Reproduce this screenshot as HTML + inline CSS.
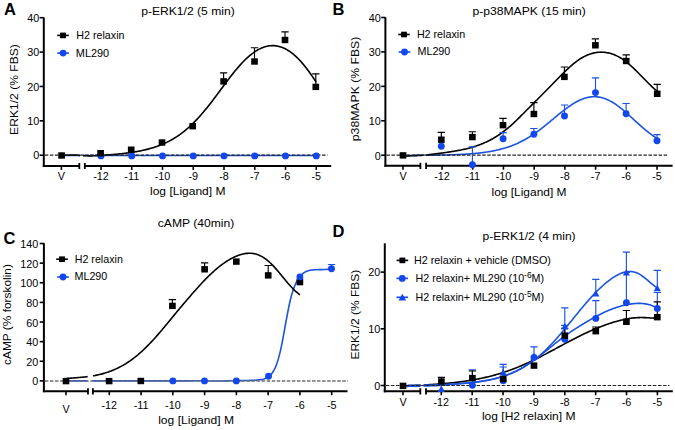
<!DOCTYPE html>
<html><head><meta charset="utf-8"><style>
html,body{margin:0;padding:0;background:#fff;width:675px;height:430px;overflow:hidden}
text{font-family:"Liberation Sans", sans-serif}
</style></head><body>
<svg width="675" height="430" viewBox="0 0 675 430" style="display:block;font-family:'Liberation Sans', sans-serif">
<rect width="675" height="430" fill="#fff"/>
<text x="4.00" y="14.80" font-size="16.5" font-weight="bold" fill="#000">A</text>
<text x="332.60" y="14.70" font-size="16.5" font-weight="bold" fill="#000">B</text>
<text x="3.60" y="243.50" font-size="16.5" font-weight="bold" fill="#000">C</text>
<text x="332.60" y="236.80" font-size="16.5" font-weight="bold" fill="#000">D</text>
<text x="141.20" y="14.60" font-size="10.6" textLength="93.50" lengthAdjust="spacingAndGlyphs">p-ERK1/2 (5 min)</text>
<text x="472.40" y="14.80" font-size="10.6" textLength="113.50" lengthAdjust="spacingAndGlyphs">p-p38MAPK (15 min)</text>
<text x="157.80" y="227.30" font-size="10.6" textLength="76.50" lengthAdjust="spacingAndGlyphs">cAMP (40min)</text>
<text x="482.60" y="240.00" font-size="10.6" textLength="93.00" lengthAdjust="spacingAndGlyphs">p-ERK1/2 (4 min)</text>
<text transform="rotate(-90 18.10 134.90)" x="18.10" y="134.90" font-size="10.6" textLength="90.80" lengthAdjust="spacingAndGlyphs">ERK1/2 (% FBS)</text>
<text transform="rotate(-90 359.00 141.20)" x="359.00" y="141.20" font-size="10.6" textLength="104.50" lengthAdjust="spacingAndGlyphs">p38MAPK (% FBS)</text>
<text transform="rotate(-90 11.20 364.90)" x="11.20" y="364.90" font-size="10.6" textLength="100.80" lengthAdjust="spacingAndGlyphs">cAMP (% forskolin)</text>
<text transform="rotate(-90 358.90 359.50)" x="358.90" y="359.50" font-size="10.6" textLength="89.70" lengthAdjust="spacingAndGlyphs">ERK1/2 (% FBS)</text>
<text x="150.00" y="194.80" font-size="11" textLength="75.50" lengthAdjust="spacingAndGlyphs">log [Ligand] M</text>
<text x="491.50" y="196.10" font-size="11" textLength="75.00" lengthAdjust="spacingAndGlyphs">log [Ligand] M</text>
<text x="158.20" y="423.90" font-size="11" textLength="75.80" lengthAdjust="spacingAndGlyphs">log [Ligand] M</text>
<text x="481.90" y="420.30" font-size="11" textLength="93.60" lengthAdjust="spacingAndGlyphs">log [H2 relaxin] M</text>
<path d="M43.80,17.50 V166.90" stroke="#000" stroke-width="2" fill="none"/>
<path d="M39.60,155.20 H43.80" stroke="#000" stroke-width="1.6"/>
<text x="39.20" y="159.40" font-size="10.8" text-anchor="end">0</text>
<path d="M39.60,120.82 H43.80" stroke="#000" stroke-width="1.6"/>
<text x="39.20" y="125.02" font-size="10.8" text-anchor="end">10</text>
<path d="M39.60,86.45 H43.80" stroke="#000" stroke-width="1.6"/>
<text x="39.20" y="90.65" font-size="10.8" text-anchor="end">20</text>
<path d="M39.60,52.07 H43.80" stroke="#000" stroke-width="1.6"/>
<text x="39.20" y="56.27" font-size="10.8" text-anchor="end">30</text>
<path d="M39.60,17.70 H43.80" stroke="#000" stroke-width="1.6"/>
<text x="39.20" y="21.90" font-size="10.8" text-anchor="end">40</text>
<path d="M42.80,165.90 H79.30 M84.80,165.90 H331.20" stroke="#000" stroke-width="2" fill="none"/>
<path d="M79.30,162.90 V169.10 M84.80,162.90 V169.10" stroke="#000" stroke-width="1.8" fill="none"/>
<path d="M61.40,165.90 V169.90" stroke="#000" stroke-width="1.6"/>
<text x="61.40" y="179.60" font-size="10.8" text-anchor="middle">V</text>
<path d="M101.00,165.90 V169.90" stroke="#000" stroke-width="1.6"/>
<text x="101.00" y="179.60" font-size="10.8" text-anchor="middle">-12</text>
<path d="M131.75,165.90 V169.90" stroke="#000" stroke-width="1.6"/>
<text x="131.75" y="179.60" font-size="10.8" text-anchor="middle">-11</text>
<path d="M162.50,165.90 V169.90" stroke="#000" stroke-width="1.6"/>
<text x="162.50" y="179.60" font-size="10.8" text-anchor="middle">-10</text>
<path d="M193.25,165.90 V169.90" stroke="#000" stroke-width="1.6"/>
<text x="193.25" y="179.60" font-size="10.8" text-anchor="middle">-9</text>
<path d="M224.00,165.90 V169.90" stroke="#000" stroke-width="1.6"/>
<text x="224.00" y="179.60" font-size="10.8" text-anchor="middle">-8</text>
<path d="M254.75,165.90 V169.90" stroke="#000" stroke-width="1.6"/>
<text x="254.75" y="179.60" font-size="10.8" text-anchor="middle">-7</text>
<path d="M285.50,165.90 V169.90" stroke="#000" stroke-width="1.6"/>
<text x="285.50" y="179.60" font-size="10.8" text-anchor="middle">-6</text>
<path d="M316.25,165.90 V169.90" stroke="#000" stroke-width="1.6"/>
<text x="316.25" y="179.60" font-size="10.8" text-anchor="middle">-5</text>
<path d="M385.40,17.30 V166.70" stroke="#000" stroke-width="2" fill="none"/>
<path d="M381.20,155.20 H385.40" stroke="#000" stroke-width="1.6"/>
<text x="380.80" y="159.70" font-size="10.8" text-anchor="end">0</text>
<path d="M381.20,120.77 H385.40" stroke="#000" stroke-width="1.6"/>
<text x="380.80" y="125.27" font-size="10.8" text-anchor="end">10</text>
<path d="M381.20,86.35 H385.40" stroke="#000" stroke-width="1.6"/>
<text x="380.80" y="90.85" font-size="10.8" text-anchor="end">20</text>
<path d="M381.20,51.92 H385.40" stroke="#000" stroke-width="1.6"/>
<text x="380.80" y="56.42" font-size="10.8" text-anchor="end">30</text>
<path d="M381.20,17.50 H385.40" stroke="#000" stroke-width="1.6"/>
<text x="380.80" y="22.00" font-size="10.8" text-anchor="end">40</text>
<path d="M384.40,165.70 H420.40 M426.10,165.70 H672.60" stroke="#000" stroke-width="2" fill="none"/>
<path d="M420.40,162.70 V168.90 M426.10,162.70 V168.90" stroke="#000" stroke-width="1.8" fill="none"/>
<path d="M403.00,165.70 V169.70" stroke="#000" stroke-width="1.6"/>
<text x="403.00" y="179.60" font-size="10.8" text-anchor="middle">V</text>
<path d="M442.00,165.70 V169.70" stroke="#000" stroke-width="1.6"/>
<text x="442.00" y="179.60" font-size="10.8" text-anchor="middle">-12</text>
<path d="M472.72,165.70 V169.70" stroke="#000" stroke-width="1.6"/>
<text x="472.72" y="179.60" font-size="10.8" text-anchor="middle">-11</text>
<path d="M503.44,165.70 V169.70" stroke="#000" stroke-width="1.6"/>
<text x="503.44" y="179.60" font-size="10.8" text-anchor="middle">-10</text>
<path d="M534.16,165.70 V169.70" stroke="#000" stroke-width="1.6"/>
<text x="534.16" y="179.60" font-size="10.8" text-anchor="middle">-9</text>
<path d="M564.88,165.70 V169.70" stroke="#000" stroke-width="1.6"/>
<text x="564.88" y="179.60" font-size="10.8" text-anchor="middle">-8</text>
<path d="M595.60,165.70 V169.70" stroke="#000" stroke-width="1.6"/>
<text x="595.60" y="179.60" font-size="10.8" text-anchor="middle">-7</text>
<path d="M626.32,165.70 V169.70" stroke="#000" stroke-width="1.6"/>
<text x="626.32" y="179.60" font-size="10.8" text-anchor="middle">-6</text>
<path d="M657.04,165.70 V169.70" stroke="#000" stroke-width="1.6"/>
<text x="657.04" y="179.60" font-size="10.8" text-anchor="middle">-5</text>
<path d="M43.90,243.10 V392.20" stroke="#000" stroke-width="2" fill="none"/>
<path d="M39.70,380.90 H43.90" stroke="#000" stroke-width="1.6"/>
<text x="38.30" y="385.40" font-size="10.8" text-anchor="end">0</text>
<path d="M39.70,361.27 H43.90" stroke="#000" stroke-width="1.6"/>
<text x="38.30" y="365.77" font-size="10.8" text-anchor="end">20</text>
<path d="M39.70,341.64 H43.90" stroke="#000" stroke-width="1.6"/>
<text x="38.30" y="346.14" font-size="10.8" text-anchor="end">40</text>
<path d="M39.70,322.02 H43.90" stroke="#000" stroke-width="1.6"/>
<text x="38.30" y="326.52" font-size="10.8" text-anchor="end">60</text>
<path d="M39.70,302.39 H43.90" stroke="#000" stroke-width="1.6"/>
<text x="38.30" y="306.89" font-size="10.8" text-anchor="end">80</text>
<path d="M39.70,282.76 H43.90" stroke="#000" stroke-width="1.6"/>
<text x="38.30" y="287.26" font-size="10.8" text-anchor="end">100</text>
<path d="M39.70,263.13 H43.90" stroke="#000" stroke-width="1.6"/>
<text x="38.30" y="267.63" font-size="10.8" text-anchor="end">120</text>
<path d="M39.70,243.50 H43.90" stroke="#000" stroke-width="1.6"/>
<text x="38.30" y="248.00" font-size="10.8" text-anchor="end">140</text>
<path d="M42.90,391.20 H88.00 M92.90,391.20 H347.50" stroke="#000" stroke-width="2" fill="none"/>
<path d="M88.00,388.20 V394.40 M92.90,388.20 V394.40" stroke="#000" stroke-width="1.8" fill="none"/>
<path d="M66.00,391.20 V395.20" stroke="#000" stroke-width="1.6"/>
<text x="66.00" y="413.00" font-size="10.8" text-anchor="middle">V</text>
<path d="M109.30,391.20 V395.20" stroke="#000" stroke-width="1.6"/>
<text x="109.30" y="408.90" font-size="10.8" text-anchor="middle">-12</text>
<path d="M141.07,391.20 V395.20" stroke="#000" stroke-width="1.6"/>
<text x="141.07" y="408.90" font-size="10.8" text-anchor="middle">-11</text>
<path d="M172.84,391.20 V395.20" stroke="#000" stroke-width="1.6"/>
<text x="172.84" y="408.90" font-size="10.8" text-anchor="middle">-10</text>
<path d="M204.61,391.20 V395.20" stroke="#000" stroke-width="1.6"/>
<text x="204.61" y="408.90" font-size="10.8" text-anchor="middle">-9</text>
<path d="M236.38,391.20 V395.20" stroke="#000" stroke-width="1.6"/>
<text x="236.38" y="408.90" font-size="10.8" text-anchor="middle">-8</text>
<path d="M268.15,391.20 V395.20" stroke="#000" stroke-width="1.6"/>
<text x="268.15" y="408.90" font-size="10.8" text-anchor="middle">-7</text>
<path d="M299.92,391.20 V395.20" stroke="#000" stroke-width="1.6"/>
<text x="299.92" y="408.90" font-size="10.8" text-anchor="middle">-6</text>
<path d="M331.69,391.20 V395.20" stroke="#000" stroke-width="1.6"/>
<text x="331.69" y="408.90" font-size="10.8" text-anchor="middle">-5</text>
<path d="M384.80,243.30 V392.30" stroke="#000" stroke-width="2" fill="none"/>
<path d="M380.60,385.50 H384.80" stroke="#000" stroke-width="1.6"/>
<text x="380.20" y="389.70" font-size="10.8" text-anchor="end">0</text>
<path d="M380.60,328.80 H384.80" stroke="#000" stroke-width="1.6"/>
<text x="380.20" y="333.00" font-size="10.8" text-anchor="end">10</text>
<path d="M380.60,272.10 H384.80" stroke="#000" stroke-width="1.6"/>
<text x="380.20" y="276.30" font-size="10.8" text-anchor="end">20</text>
<path d="M383.80,391.30 H420.30 M426.00,391.30 H672.80" stroke="#000" stroke-width="2" fill="none"/>
<path d="M420.30,388.30 V394.50 M426.00,388.30 V394.50" stroke="#000" stroke-width="1.8" fill="none"/>
<path d="M403.00,391.30 V395.30" stroke="#000" stroke-width="1.6"/>
<text x="403.00" y="405.60" font-size="10.8" text-anchor="middle">V</text>
<path d="M441.30,391.30 V395.30" stroke="#000" stroke-width="1.6"/>
<text x="441.30" y="405.60" font-size="10.8" text-anchor="middle">-12</text>
<path d="M472.17,391.30 V395.30" stroke="#000" stroke-width="1.6"/>
<text x="472.17" y="405.60" font-size="10.8" text-anchor="middle">-11</text>
<path d="M503.04,391.30 V395.30" stroke="#000" stroke-width="1.6"/>
<text x="503.04" y="405.60" font-size="10.8" text-anchor="middle">-10</text>
<path d="M533.91,391.30 V395.30" stroke="#000" stroke-width="1.6"/>
<text x="533.91" y="405.60" font-size="10.8" text-anchor="middle">-9</text>
<path d="M564.78,391.30 V395.30" stroke="#000" stroke-width="1.6"/>
<text x="564.78" y="405.60" font-size="10.8" text-anchor="middle">-8</text>
<path d="M595.65,391.30 V395.30" stroke="#000" stroke-width="1.6"/>
<text x="595.65" y="405.60" font-size="10.8" text-anchor="middle">-7</text>
<path d="M626.52,391.30 V395.30" stroke="#000" stroke-width="1.6"/>
<text x="626.52" y="405.60" font-size="10.8" text-anchor="middle">-6</text>
<path d="M657.39,391.30 V395.30" stroke="#000" stroke-width="1.6"/>
<text x="657.39" y="405.60" font-size="10.8" text-anchor="middle">-5</text>
<path d="M57.20,35.40 H68.80" stroke="#000" stroke-width="1.6"/>
<rect x="60.08" y="32.60" width="5.85" height="5.6" fill="#000"/>
<text x="76.30" y="38.60" font-size="10.6" textLength="48.20" lengthAdjust="spacingAndGlyphs">H2 relaxin</text>
<path d="M57.30,53.10 H68.90" stroke="#1247ec" stroke-width="1.6"/>
<circle cx="63.10" cy="53.10" r="3.4" fill="#1247ec"/>
<text x="75.80" y="56.50" font-size="10.6" textLength="33.40" lengthAdjust="spacingAndGlyphs">ML290</text>
<path d="M398.20,34.50 H409.80" stroke="#000" stroke-width="1.6"/>
<rect x="401.07" y="31.70" width="5.85" height="5.6" fill="#000"/>
<text x="416.90" y="37.80" font-size="10.6" textLength="48.20" lengthAdjust="spacingAndGlyphs">H2 relaxin</text>
<path d="M398.70,52.00 H410.30" stroke="#1247ec" stroke-width="1.6"/>
<circle cx="404.50" cy="52.00" r="3.4" fill="#1247ec"/>
<text x="417.50" y="55.40" font-size="10.6" textLength="32.80" lengthAdjust="spacingAndGlyphs">ML290</text>
<path d="M56.20,259.20 H67.80" stroke="#000" stroke-width="1.6"/>
<rect x="59.08" y="256.40" width="5.85" height="5.6" fill="#000"/>
<text x="74.70" y="262.60" font-size="10.6" textLength="48.20" lengthAdjust="spacingAndGlyphs">H2 relaxin</text>
<path d="M57.20,277.00 H68.80" stroke="#1247ec" stroke-width="1.6"/>
<circle cx="63.00" cy="277.00" r="3.4" fill="#1247ec"/>
<text x="74.50" y="280.20" font-size="10.6" textLength="32.80" lengthAdjust="spacingAndGlyphs">ML290</text>
<path d="M396.60,260.40 H408.20" stroke="#000" stroke-width="1.6"/>
<rect x="399.47" y="257.60" width="5.85" height="5.6" fill="#000"/>
<text x="413.90" y="263.60" font-size="10.6" textLength="137.00" lengthAdjust="spacingAndGlyphs">H2 relaxin + vehicle (DMSO)</text>
<path d="M396.40,278.40 H408.00" stroke="#1247ec" stroke-width="1.6"/>
<circle cx="402.20" cy="278.40" r="3.4" fill="#1247ec"/>
<text x="415.50" y="282.40" font-size="10.6" textLength="128.60" lengthAdjust="spacingAndGlyphs">H2 relaxin+ ML290 (10<tspan dy="-4.2" font-size="8.4">-6</tspan><tspan dy="4.2">M)</tspan></text>
<path d="M396.50,297.30 H408.10" stroke="#1247ec" stroke-width="1.6"/>
<path d="M402.30,293.70 L406.10,300.54 L398.50,300.54Z" fill="#1247ec"/>
<text x="415.60" y="301.30" font-size="10.6" textLength="128.50" lengthAdjust="spacingAndGlyphs">H2 relaxin+ ML290 (10<tspan dy="-4.2" font-size="8.4">-5</tspan><tspan dy="4.2">M)</tspan></text>
<path d="M61.40,155.54 L62.38,155.54 L63.37,155.54 L64.35,155.54 L65.34,155.54 L66.32,155.54 L67.30,155.54 L68.29,155.54 L69.27,155.54 L70.26,155.54 L71.24,155.54 L72.22,155.54 L73.21,155.54 L74.19,155.54 L75.18,155.54 L76.16,155.54 L77.14,155.54 L78.13,155.54 L79.11,155.54 L80.10,155.54M83.05,155.54 L84.03,155.54 L85.02,155.54 L86.00,155.54 L86.98,155.54 L87.97,155.54 L88.95,155.54 L89.94,155.54 L90.92,155.54 L91.90,155.54 L92.89,155.54 L93.87,155.54 L94.86,155.54 L95.84,155.54 L96.82,155.54 L97.81,155.54 L98.79,155.54 L99.78,155.54 L100.76,155.54 L101.74,155.54 L102.73,155.54 L103.71,155.54 L104.69,155.54 L105.68,155.54 L106.66,155.54 L107.65,155.54 L108.63,155.54 L109.61,155.54 L110.60,155.54 L111.58,155.54 L112.57,155.54 L113.55,155.54 L114.53,155.54 L115.52,155.54 L116.50,155.54 L117.49,155.54 L118.47,155.54 L119.45,155.54 L120.44,155.54 L121.42,155.54 L122.41,155.54 L123.39,155.54 L124.37,155.54 L125.36,155.54 L126.34,155.54 L127.33,155.54 L128.31,155.54 L129.29,155.54 L130.28,155.54 L131.26,155.54 L132.25,155.54 L133.23,155.54 L134.21,155.54 L135.20,155.54 L136.18,155.54 L137.17,155.54 L138.15,155.54 L139.13,155.54 L140.12,155.54 L141.10,155.54 L142.09,155.54 L143.07,155.54 L144.05,155.54 L145.04,155.54 L146.02,155.54 L147.01,155.54 L147.99,155.54 L148.97,155.54 L149.96,155.54 L150.94,155.54 L151.93,155.54 L152.91,155.54 L153.89,155.54 L154.88,155.54 L155.86,155.54 L156.85,155.54 L157.83,155.54 L158.81,155.54 L159.80,155.54 L160.78,155.54 L161.77,155.54 L162.75,155.54 L163.73,155.54 L164.72,155.54 L165.70,155.54 L166.69,155.54 L167.67,155.54 L168.65,155.54 L169.64,155.54 L170.62,155.54 L171.61,155.54 L172.59,155.54 L173.57,155.54 L174.56,155.54 L175.54,155.54 L176.53,155.54 L177.51,155.54 L178.49,155.54 L179.48,155.54 L180.46,155.54 L181.45,155.54 L182.43,155.54 L183.41,155.54 L184.40,155.54 L185.38,155.54 L186.37,155.54 L187.35,155.54 L188.33,155.54 L189.32,155.54 L190.30,155.54 L191.28,155.54 L192.27,155.54 L193.25,155.54 L194.24,155.54 L195.22,155.54 L196.20,155.54 L197.19,155.54 L198.17,155.54 L199.16,155.54 L200.14,155.54 L201.12,155.54 L202.11,155.54 L203.09,155.54 L204.08,155.54 L205.06,155.54 L206.04,155.54 L207.03,155.54 L208.01,155.54 L209.00,155.54 L209.98,155.54 L210.96,155.54 L211.95,155.54 L212.93,155.54 L213.92,155.54 L214.90,155.54 L215.88,155.54 L216.87,155.54 L217.85,155.54 L218.84,155.54 L219.82,155.54 L220.80,155.54 L221.79,155.54 L222.77,155.54 L223.76,155.54 L224.74,155.54 L225.72,155.54 L226.71,155.54 L227.69,155.54 L228.68,155.54 L229.66,155.54 L230.64,155.54 L231.63,155.54 L232.61,155.54 L233.60,155.54 L234.58,155.54 L235.56,155.54 L236.55,155.54 L237.53,155.54 L238.52,155.54 L239.50,155.54 L240.48,155.54 L241.47,155.54 L242.45,155.54 L243.44,155.54 L244.42,155.54 L245.40,155.54 L246.39,155.54 L247.37,155.54 L248.36,155.54 L249.34,155.54 L250.32,155.54 L251.31,155.54 L252.29,155.54 L253.28,155.54 L254.26,155.54 L255.24,155.54 L256.23,155.54 L257.21,155.54 L258.20,155.54 L259.18,155.54 L260.16,155.54 L261.15,155.54 L262.13,155.54 L263.12,155.54 L264.10,155.54 L265.08,155.54 L266.07,155.54 L267.05,155.54 L268.04,155.54 L269.02,155.54 L270.00,155.54 L270.99,155.54 L271.97,155.54 L272.96,155.54 L273.94,155.54 L274.92,155.54 L275.91,155.54 L276.89,155.54 L277.87,155.54 L278.86,155.54 L279.84,155.54 L280.83,155.54 L281.81,155.54 L282.79,155.54 L283.78,155.54 L284.76,155.54 L285.75,155.54 L286.73,155.54 L287.71,155.54 L288.70,155.54 L289.68,155.54 L290.67,155.54 L291.65,155.54 L292.63,155.54 L293.62,155.54 L294.60,155.54 L295.59,155.54 L296.57,155.54 L297.55,155.54 L298.54,155.54 L299.52,155.54 L300.51,155.54 L301.49,155.54 L302.47,155.54 L303.46,155.54 L304.44,155.54 L305.43,155.54 L306.41,155.54 L307.39,155.54 L308.38,155.54 L309.36,155.54 L310.35,155.54 L311.33,155.54 L312.31,155.54 L313.30,155.54 L314.28,155.54 L315.27,155.54 L316.25,155.54" stroke="#1b52e0" stroke-width="1.6" fill="none" stroke-linejoin="round"/>
<path d="M61.40,155.25 L62.38,155.24 L63.37,155.24 L64.35,155.23 L65.34,155.22 L66.32,155.21 L67.30,155.19 L68.29,155.18 L69.27,155.17 L70.26,155.16 L71.24,155.15 L72.22,155.13 L73.21,155.12 L74.19,155.11 L75.18,155.11 L76.16,155.17 L77.14,155.23 L78.13,155.29 L79.11,155.35 L80.10,155.41M83.05,155.58 L84.03,155.63 L85.02,155.69 L86.00,155.74 L86.98,155.80 L87.97,155.85 L88.95,155.90 L89.94,155.95 L90.92,155.91 L91.90,155.86 L92.89,155.81 L93.87,155.75 L94.86,155.70 L95.84,155.65 L96.82,155.59 L97.81,155.54 L98.79,155.48 L99.78,155.42 L100.76,155.36 L101.74,155.30 L102.73,155.24 L103.71,155.18 L104.69,155.11 L105.68,155.04 L106.66,154.98 L107.65,154.90 L108.63,154.83 L109.61,154.76 L110.60,154.68 L111.58,154.60 L112.57,154.52 L113.55,154.44 L114.53,154.36 L115.52,154.27 L116.50,154.18 L117.49,154.09 L118.47,153.99 L119.45,153.89 L120.44,153.79 L121.42,153.69 L122.41,153.58 L123.39,153.47 L124.37,153.35 L125.36,153.24 L126.34,153.11 L127.33,152.99 L128.31,152.86 L129.29,152.72 L130.28,152.58 L131.26,152.44 L132.25,152.29 L133.23,152.14 L134.21,151.98 L135.20,151.82 L136.18,151.65 L137.17,151.47 L138.15,151.29 L139.13,151.11 L140.12,150.91 L141.10,150.72 L142.09,150.51 L143.07,150.30 L144.05,150.08 L145.04,149.85 L146.02,149.61 L147.01,149.37 L147.99,149.12 L148.97,148.86 L149.96,148.59 L150.94,148.31 L151.93,148.02 L152.91,147.72 L153.89,147.41 L154.88,147.09 L155.86,146.77 L156.85,146.43 L157.83,146.08 L158.81,145.71 L159.80,145.34 L160.78,144.95 L161.77,144.55 L162.75,144.14 L163.73,143.71 L164.72,143.27 L165.70,142.82 L166.69,142.35 L167.67,141.87 L168.65,141.37 L169.64,140.86 L170.62,140.33 L171.61,139.78 L172.59,139.22 L173.57,138.64 L174.56,138.05 L175.54,137.44 L176.53,136.81 L177.51,136.16 L178.49,135.49 L179.48,134.81 L180.46,134.10 L181.45,133.38 L182.43,132.64 L183.41,131.87 L184.40,131.09 L185.38,130.29 L186.37,129.47 L187.35,128.63 L188.33,127.76 L189.32,126.88 L190.30,125.98 L191.28,125.06 L192.27,124.11 L193.25,123.15 L194.24,122.17 L195.22,121.16 L196.20,120.14 L197.19,119.10 L198.17,118.04 L199.16,116.96 L200.14,115.86 L201.12,114.74 L202.11,113.60 L203.09,112.45 L204.08,111.28 L205.06,110.10 L206.04,108.90 L207.03,107.68 L208.01,106.45 L209.00,105.21 L209.98,103.95 L210.96,102.68 L211.95,101.41 L212.93,100.12 L213.92,98.82 L214.90,97.52 L215.88,96.20 L216.87,94.89 L217.85,93.56 L218.84,92.24 L219.82,90.91 L220.80,89.58 L221.79,88.25 L222.77,86.92 L223.76,85.60 L224.74,84.28 L225.72,82.96 L226.71,81.65 L227.69,80.35 L228.68,79.05 L229.66,77.77 L230.64,76.50 L231.63,75.23 L232.61,73.99 L233.60,72.76 L234.58,71.54 L235.56,70.34 L236.55,69.16 L237.53,68.00 L238.52,66.86 L239.50,65.74 L240.48,64.64 L241.47,63.57 L242.45,62.52 L243.44,61.49 L244.42,60.49 L245.40,59.52 L246.39,58.58 L247.37,57.66 L248.36,56.78 L249.34,55.92 L250.32,55.10 L251.31,54.30 L252.29,53.54 L253.28,52.81 L254.26,52.12 L255.24,51.45 L256.23,50.82 L257.21,50.23 L258.20,49.67 L259.18,49.14 L260.16,48.65 L261.15,48.20 L262.13,47.78 L263.12,47.39 L264.10,47.05 L265.08,46.74 L266.07,46.47 L267.05,46.23 L268.04,46.04 L269.02,45.88 L270.00,45.76 L270.99,45.68 L271.97,45.63 L272.96,45.62 L273.94,45.66 L274.92,45.73 L275.91,45.84 L276.89,45.98 L277.87,46.17 L278.86,46.40 L279.84,46.66 L280.83,46.97 L281.81,47.31 L282.79,47.69 L283.78,48.11 L284.76,48.57 L285.75,49.07 L286.73,49.61 L287.71,50.19 L288.70,50.80 L289.68,51.45 L290.67,52.15 L291.65,52.88 L292.63,53.65 L293.62,54.45 L294.60,55.30 L295.59,56.18 L296.57,57.10 L297.55,58.05 L298.54,59.04 L299.52,60.07 L300.51,61.13 L301.49,62.23 L302.47,63.36 L303.46,64.52 L304.44,65.72 L305.43,66.95 L306.41,68.21 L307.39,69.50 L308.38,70.82 L309.36,72.16 L310.35,73.54 L311.33,74.94 L312.31,76.37 L313.30,77.82 L314.28,79.30 L315.27,80.80 L316.25,82.31" stroke="#000" stroke-width="1.6" fill="none" stroke-linejoin="round"/>
<path d="M403.00,155.56 L403.98,155.55 L404.96,155.55 L405.94,155.53 L406.92,155.51 L407.90,155.50 L408.89,155.48 L409.87,155.46 L410.85,155.44 L411.83,155.43 L412.81,155.41 L413.79,155.39 L414.77,155.37 L415.75,155.35 L416.73,155.33 L417.71,155.31 L418.69,155.29 L419.67,155.27 L420.66,155.26 L421.64,155.26 L422.62,155.25 L423.60,155.25M425.56,155.24 L426.54,155.24 L427.52,155.23 L428.50,155.22 L429.48,155.21 L430.46,155.21 L431.44,155.20 L432.43,155.19 L433.41,155.18 L434.39,155.17 L435.37,155.15 L436.35,155.14 L437.33,155.13 L438.31,155.11 L439.29,155.10 L440.27,155.08 L441.25,155.06 L442.23,155.04 L443.21,155.02 L444.20,155.00 L445.18,154.98 L446.16,154.96 L447.14,154.93 L448.12,154.91 L449.10,154.88 L450.08,154.85 L451.06,154.82 L452.04,154.79 L453.02,154.76 L454.00,154.72 L454.99,154.68 L455.97,154.65 L456.95,154.61 L457.93,154.56 L458.91,154.52 L459.89,154.47 L460.87,154.42 L461.85,154.37 L462.83,154.32 L463.81,154.27 L464.79,154.21 L465.77,154.15 L466.76,154.08 L467.74,154.02 L468.72,153.95 L469.70,153.88 L470.68,153.80 L471.66,153.72 L472.64,153.64 L473.62,153.56 L474.60,153.47 L475.58,153.38 L476.56,153.28 L477.54,153.18 L478.53,153.08 L479.51,152.97 L480.49,152.85 L481.47,152.74 L482.45,152.61 L483.43,152.48 L484.41,152.35 L485.39,152.21 L486.37,152.07 L487.35,151.92 L488.33,151.76 L489.31,151.60 L490.30,151.43 L491.28,151.26 L492.26,151.08 L493.24,150.89 L494.22,150.69 L495.20,150.49 L496.18,150.28 L497.16,150.06 L498.14,149.84 L499.12,149.60 L500.10,149.36 L501.08,149.10 L502.07,148.84 L503.05,148.57 L504.03,148.29 L505.01,148.00 L505.99,147.70 L506.97,147.39 L507.95,147.06 L508.93,146.73 L509.91,146.39 L510.89,146.03 L511.87,145.66 L512.86,145.28 L513.84,144.89 L514.82,144.49 L515.80,144.07 L516.78,143.65 L517.76,143.20 L518.74,142.75 L519.72,142.28 L520.70,141.80 L521.68,141.31 L522.66,140.80 L523.64,140.28 L524.63,139.74 L525.61,139.19 L526.59,138.63 L527.57,138.05 L528.55,137.46 L529.53,136.86 L530.51,136.24 L531.49,135.61 L532.47,134.96 L533.45,134.30 L534.43,133.63 L535.41,132.95 L536.40,132.26 L537.38,131.55 L538.36,130.83 L539.34,130.10 L540.32,129.36 L541.30,128.61 L542.28,127.85 L543.26,127.08 L544.24,126.30 L545.22,125.52 L546.20,124.73 L547.18,123.93 L548.17,123.13 L549.15,122.32 L550.13,121.51 L551.11,120.69 L552.09,119.87 L553.07,119.06 L554.05,118.24 L555.03,117.42 L556.01,116.61 L556.99,115.79 L557.97,114.99 L558.96,114.18 L559.94,113.38 L560.92,112.59 L561.90,111.81 L562.88,111.04 L563.86,110.28 L564.84,109.52 L565.82,108.78 L566.80,108.06 L567.78,107.35 L568.76,106.65 L569.74,105.97 L570.73,105.31 L571.71,104.66 L572.69,104.04 L573.67,103.43 L574.65,102.85 L575.63,102.29 L576.61,101.75 L577.59,101.23 L578.57,100.74 L579.55,100.28 L580.53,99.84 L581.51,99.42 L582.50,99.04 L583.48,98.68 L584.46,98.35 L585.44,98.05 L586.42,97.78 L587.40,97.54 L588.38,97.33 L589.36,97.15 L590.34,97.00 L591.32,96.88 L592.30,96.80 L593.28,96.75 L594.27,96.73 L595.25,96.74 L596.23,96.78 L597.21,96.86 L598.19,96.98 L599.17,97.12 L600.15,97.30 L601.13,97.51 L602.11,97.76 L603.09,98.03 L604.07,98.35 L605.05,98.69 L606.04,99.06 L607.02,99.47 L608.00,99.91 L608.98,100.37 L609.96,100.87 L610.94,101.40 L611.92,101.96 L612.90,102.54 L613.88,103.15 L614.86,103.79 L615.84,104.45 L616.83,105.14 L617.81,105.85 L618.79,106.58 L619.77,107.34 L620.75,108.11 L621.73,108.90 L622.71,109.71 L623.69,110.54 L624.67,111.38 L625.65,112.23 L626.63,113.09 L627.61,113.97 L628.60,114.85 L629.58,115.74 L630.56,116.63 L631.54,117.53 L632.52,118.44 L633.50,119.34 L634.48,120.24 L635.46,121.14 L636.44,122.04 L637.42,122.94 L638.40,123.83 L639.38,124.71 L640.37,125.58 L641.35,126.45 L642.33,127.30 L643.31,128.15 L644.29,128.98 L645.27,129.80 L646.25,130.61 L647.23,131.40 L648.21,132.18 L649.19,132.94 L650.17,133.69 L651.15,134.42 L652.14,135.14 L653.12,135.83 L654.10,136.51 L655.08,137.17 L656.06,137.81 L657.04,138.43" stroke="#1b52e0" stroke-width="1.6" fill="none" stroke-linejoin="round"/>
<path d="M403.00,156.13 L403.98,156.09 L404.96,156.06 L405.94,156.02 L406.92,155.98 L407.90,155.95 L408.89,155.91 L409.87,155.86 L410.85,155.82 L411.83,155.79 L412.81,155.75 L413.79,155.72 L414.77,155.68 L415.75,155.64 L416.73,155.60 L417.71,155.56 L418.69,155.51 L419.67,155.47 L420.66,155.42 L421.64,155.37 L422.62,155.32 L423.60,155.27M425.56,155.15 L426.54,155.06 L427.52,154.92 L428.50,154.79 L429.48,154.65 L430.46,154.52 L431.44,154.39 L432.43,154.26 L433.41,154.13 L434.39,154.00 L435.37,153.87 L436.35,153.74 L437.33,153.61 L438.31,153.49 L439.29,153.36 L440.27,153.23 L441.25,153.10 L442.23,152.97 L443.21,152.84 L444.20,152.70 L445.18,152.57 L446.16,152.43 L447.14,152.29 L448.12,152.15 L449.10,152.01 L450.08,151.86 L451.06,151.71 L452.04,151.56 L453.02,151.40 L454.00,151.24 L454.99,151.08 L455.97,150.91 L456.95,150.74 L457.93,150.56 L458.91,150.38 L459.89,150.19 L460.87,149.99 L461.85,149.79 L462.83,149.58 L463.81,149.37 L464.79,149.15 L465.77,148.92 L466.76,148.69 L467.74,148.44 L468.72,148.19 L469.70,147.93 L470.68,147.67 L471.66,147.39 L472.64,147.10 L473.62,146.81 L474.60,146.50 L475.58,146.18 L476.56,145.86 L477.54,145.52 L478.53,145.17 L479.51,144.81 L480.49,144.44 L481.47,144.05 L482.45,143.65 L483.43,143.24 L484.41,142.82 L485.39,142.38 L486.37,141.93 L487.35,141.47 L488.33,140.99 L489.31,140.50 L490.30,139.99 L491.28,139.47 L492.26,138.93 L493.24,138.37 L494.22,137.80 L495.20,137.22 L496.18,136.62 L497.16,136.00 L498.14,135.36 L499.12,134.71 L500.10,134.04 L501.08,133.35 L502.07,132.65 L503.05,131.92 L504.03,131.19 L505.01,130.43 L505.99,129.66 L506.97,128.87 L507.95,128.06 L508.93,127.23 L509.91,126.39 L510.89,125.53 L511.87,124.65 L512.86,123.76 L513.84,122.85 L514.82,121.92 L515.80,120.99 L516.78,120.04 L517.76,119.08 L518.74,118.11 L519.72,117.14 L520.70,116.16 L521.68,115.18 L522.66,114.19 L523.64,113.21 L524.63,112.22 L525.61,111.23 L526.59,110.25 L527.57,109.27 L528.55,108.29 L529.53,107.31 L530.51,106.32 L531.49,105.34 L532.47,104.36 L533.45,103.38 L534.43,102.40 L535.41,101.41 L536.40,100.43 L537.38,99.44 L538.36,98.46 L539.34,97.47 L540.32,96.48 L541.30,95.49 L542.28,94.50 L543.26,93.50 L544.24,92.51 L545.22,91.51 L546.20,90.51 L547.18,89.51 L548.17,88.50 L549.15,87.50 L550.13,86.49 L551.11,85.48 L552.09,84.47 L553.07,83.46 L554.05,82.45 L555.03,81.45 L556.01,80.44 L556.99,79.44 L557.97,78.44 L558.96,77.45 L559.94,76.46 L560.92,75.47 L561.90,74.50 L562.88,73.53 L563.86,72.56 L564.84,71.61 L565.82,70.66 L566.80,69.73 L567.78,68.81 L568.76,67.90 L569.74,67.01 L570.73,66.13 L571.71,65.28 L572.69,64.44 L573.67,63.62 L574.65,62.83 L575.63,62.06 L576.61,61.32 L577.59,60.60 L578.57,59.92 L579.55,59.26 L580.53,58.63 L581.51,58.03 L582.50,57.46 L583.48,56.92 L584.46,56.41 L585.44,55.92 L586.42,55.47 L587.40,55.05 L588.38,54.65 L589.36,54.29 L590.34,53.95 L591.32,53.65 L592.30,53.37 L593.28,53.12 L594.27,52.90 L595.25,52.71 L596.23,52.55 L597.21,52.41 L598.19,52.31 L599.17,52.23 L600.15,52.19 L601.13,52.17 L602.11,52.18 L603.09,52.22 L604.07,52.29 L605.05,52.39 L606.04,52.52 L607.02,52.68 L608.00,52.86 L608.98,53.07 L609.96,53.32 L610.94,53.59 L611.92,53.90 L612.90,54.23 L613.88,54.60 L614.86,55.00 L615.84,55.43 L616.83,55.89 L617.81,56.39 L618.79,56.91 L619.77,57.47 L620.75,58.05 L621.73,58.67 L622.71,59.32 L623.69,60.00 L624.67,60.70 L625.65,61.44 L626.63,62.20 L627.61,62.99 L628.60,63.80 L629.58,64.64 L630.56,65.50 L631.54,66.38 L632.52,67.28 L633.50,68.20 L634.48,69.14 L635.46,70.09 L636.44,71.05 L637.42,72.03 L638.40,73.01 L639.38,74.01 L640.37,75.01 L641.35,76.01 L642.33,77.01 L643.31,78.02 L644.29,79.02 L645.27,80.02 L646.25,81.02 L647.23,82.01 L648.21,82.99 L649.19,83.96 L650.17,84.93 L651.15,85.88 L652.14,86.82 L653.12,87.75 L654.10,88.66 L655.08,89.55 L656.06,90.43 L657.04,91.29" stroke="#000" stroke-width="1.6" fill="none" stroke-linejoin="round"/>
<path d="M66.00,380.90 L67.03,380.90 L68.05,380.90 L69.08,380.90 L70.10,380.90 L71.13,380.90 L72.15,380.90 L73.18,380.90 L74.21,380.90 L75.23,380.90 L76.26,380.90 L77.28,380.90 L78.31,380.90 L79.34,380.90 L80.36,380.90 L81.39,380.90 L82.41,380.90 L83.44,380.90 L84.46,380.90 L85.49,380.90 L86.52,380.90 L87.54,380.90M92.67,380.90 L93.70,380.90 L94.72,380.90 L95.75,380.90 L96.77,380.90 L97.80,380.90 L98.83,380.90 L99.85,380.90 L100.88,380.90 L101.90,380.90 L102.93,380.90 L103.96,380.90 L104.98,380.90 L106.01,380.90 L107.03,380.90 L108.06,380.90 L109.08,380.90 L110.11,380.90 L111.14,380.90 L112.16,380.90 L113.19,380.90 L114.21,380.90 L115.24,380.90 L116.27,380.90 L117.29,380.90 L118.32,380.90 L119.34,380.90 L120.37,380.90 L121.39,380.90 L122.42,380.90 L123.45,380.90 L124.47,380.90 L125.50,380.90 L126.52,380.90 L127.55,380.90 L128.58,380.90 L129.60,380.90 L130.63,380.90 L131.65,380.90 L132.68,380.90 L133.70,380.90 L134.73,380.90 L135.76,380.90 L136.78,380.90 L137.81,380.90 L138.83,380.90 L139.86,380.90 L140.89,380.90 L141.91,380.90 L142.94,380.90 L143.96,380.90 L144.99,380.90 L146.01,380.90 L147.04,380.90 L148.07,380.90 L149.09,380.90 L150.12,380.90 L151.14,380.90 L152.17,380.90 L153.20,380.90 L154.22,380.90 L155.25,380.90 L156.27,380.90 L157.30,380.90 L158.32,380.90 L159.35,380.90 L160.38,380.90 L161.40,380.90 L162.43,380.90 L163.45,380.90 L164.48,380.90 L165.51,380.90 L166.53,380.90 L167.56,380.90 L168.58,380.90 L169.61,380.90 L170.63,380.90 L171.66,380.90 L172.69,380.90 L173.71,380.90 L174.74,380.90 L175.76,380.90 L176.79,380.90 L177.82,380.90 L178.84,380.90 L179.87,380.90 L180.89,380.90 L181.92,380.90 L182.94,380.90 L183.97,380.90 L185.00,380.90 L186.02,380.89 L187.05,380.87 L188.07,380.86 L189.10,380.85 L190.13,380.83 L191.15,380.82 L192.18,380.80 L193.20,380.79 L194.23,380.78 L195.25,380.76 L196.28,380.75 L197.31,380.74 L198.33,380.72 L199.36,380.71 L200.38,380.71 L201.41,380.75 L202.44,380.79 L203.46,380.82 L204.49,380.85 L205.51,380.88 L206.54,380.90 L207.56,380.92 L208.59,380.94 L209.62,380.95 L210.64,380.96 L211.67,380.97 L212.69,380.98 L213.72,380.98 L214.75,380.98 L215.77,380.98 L216.80,380.98 L217.82,380.98 L218.85,380.97 L219.87,380.96 L220.90,380.96 L221.93,380.94 L222.95,380.93 L223.98,380.92 L225.00,380.90 L226.03,380.89 L227.06,380.87 L228.08,380.86 L229.11,380.84 L230.13,380.82 L231.16,380.80 L232.18,380.78 L233.21,380.76 L234.24,380.74 L235.26,380.72 L236.29,380.70 L237.31,380.68 L238.34,380.66 L239.37,380.64 L240.39,380.62 L241.42,380.60 L242.44,380.58 L243.47,380.56 L244.49,380.54 L245.52,380.52 L246.55,380.50 L247.57,380.47 L248.60,380.45 L249.62,380.42 L250.65,380.39 L251.68,380.36 L252.70,380.33 L253.73,380.28 L254.75,380.23 L255.78,380.18 L256.80,380.11 L257.83,380.02 L258.86,379.92 L259.88,379.80 L260.91,379.64 L261.93,379.46 L262.96,379.23 L263.99,378.95 L265.01,378.61 L266.04,378.20 L267.06,377.70 L268.09,377.08 L269.11,376.34 L270.14,375.44 L271.17,374.37 L272.19,373.07 L273.22,371.54 L274.24,369.72 L275.27,367.58 L276.30,365.09 L277.32,362.20 L278.35,358.88 L279.37,355.10 L280.40,350.85 L281.42,346.15 L282.45,341.02 L283.48,335.58 L284.50,329.93 L285.53,324.20 L286.55,318.53 L287.58,313.04 L288.61,307.84 L289.63,303.03 L290.66,298.68 L291.68,294.80 L292.71,291.38 L293.73,288.37 L294.76,285.74 L295.79,283.43 L296.81,281.40 L297.84,279.63 L298.86,278.06 L299.89,276.67 L300.92,275.46 L301.94,274.40 L302.97,273.49 L303.99,272.72 L305.02,272.09 L306.04,271.56 L307.07,271.14 L308.10,270.79 L309.12,270.51 L310.15,270.29 L311.17,270.12 L312.20,269.99 L313.23,269.89 L314.25,269.81 L315.28,269.76 L316.30,269.72 L317.33,269.69 L318.35,269.67 L319.38,269.66 L320.41,269.64 L321.43,269.62 L322.46,269.59 L323.48,269.55 L324.51,269.50 L325.54,269.44 L326.56,269.36 L327.59,269.26 L328.61,269.14 L329.64,269.00 L330.66,268.83 L331.69,268.73" stroke="#1b52e0" stroke-width="1.6" fill="none" stroke-linejoin="round"/>
<path d="M66.00,378.52 L66.90,378.44 L67.81,378.37 L68.71,378.30 L69.61,378.24 L70.52,378.17 L71.42,378.10 L72.32,378.04 L73.23,377.97 L74.13,377.90 L75.03,377.84 L75.93,377.77 L76.84,377.70 L77.74,377.63 L78.64,377.56 L79.55,377.48 L80.45,377.40 L81.35,377.32 L82.26,377.24 L83.16,377.15 L84.06,377.06 L84.97,376.96 L85.87,376.86 L86.77,376.76 L87.68,376.64M93.09,375.84 L94.00,375.68 L94.90,375.51 L95.80,375.34 L96.71,375.15 L97.61,374.96 L98.51,374.76 L99.42,374.55 L100.32,374.33 L101.22,374.10 L102.13,373.87 L103.03,373.62 L103.93,373.36 L104.84,373.10 L105.74,372.82 L106.64,372.53 L107.55,372.24 L108.45,371.93 L109.35,371.61 L110.26,371.28 L111.16,370.94 L112.06,370.58 L112.96,370.22 L113.87,369.84 L114.77,369.45 L115.67,369.05 L116.58,368.64 L117.48,368.21 L118.38,367.78 L119.29,367.32 L120.19,366.86 L121.09,366.38 L122.00,365.89 L122.90,365.38 L123.80,364.86 L124.71,364.32 L125.61,363.78 L126.51,363.21 L127.42,362.63 L128.32,362.04 L129.22,361.43 L130.12,360.81 L131.03,360.17 L131.93,359.51 L132.83,358.84 L133.74,358.16 L134.64,357.46 L135.54,356.74 L136.45,356.01 L137.35,355.26 L138.25,354.50 L139.16,353.72 L140.06,352.93 L140.96,352.13 L141.87,351.31 L142.77,350.47 L143.67,349.63 L144.58,348.77 L145.48,347.89 L146.38,347.00 L147.28,346.10 L148.19,345.18 L149.09,344.26 L149.99,343.32 L150.90,342.37 L151.80,341.40 L152.70,340.43 L153.61,339.44 L154.51,338.45 L155.41,337.44 L156.32,336.43 L157.22,335.40 L158.12,334.37 L159.03,333.33 L159.93,332.28 L160.83,331.22 L161.74,330.16 L162.64,329.09 L163.54,328.01 L164.45,326.93 L165.35,325.85 L166.25,324.76 L167.15,323.66 L168.06,322.57 L168.96,321.47 L169.86,320.37 L170.77,319.27 L171.67,318.17 L172.57,317.08 L173.48,315.98 L174.38,314.88 L175.28,313.79 L176.19,312.70 L177.09,311.61 L177.99,310.52 L178.90,309.44 L179.80,308.36 L180.70,307.28 L181.61,306.20 L182.51,305.12 L183.41,304.05 L184.31,302.99 L185.22,301.92 L186.12,300.86 L187.02,299.80 L187.93,298.75 L188.83,297.70 L189.73,296.65 L190.64,295.61 L191.54,294.57 L192.44,293.53 L193.35,292.50 L194.25,291.48 L195.15,290.46 L196.06,289.44 L196.96,288.43 L197.86,287.42 L198.77,286.43 L199.67,285.43 L200.57,284.45 L201.47,283.48 L202.38,282.51 L203.28,281.56 L204.18,280.61 L205.09,279.68 L205.99,278.75 L206.89,277.84 L207.80,276.94 L208.70,276.05 L209.60,275.17 L210.51,274.31 L211.41,273.46 L212.31,272.62 L213.22,271.80 L214.12,270.98 L215.02,270.19 L215.93,269.41 L216.83,268.64 L217.73,267.89 L218.64,267.15 L219.54,266.43 L220.44,265.73 L221.34,265.04 L222.25,264.36 L223.15,263.70 L224.05,263.06 L224.96,262.44 L225.86,261.83 L226.76,261.24 L227.67,260.67 L228.57,260.12 L229.47,259.58 L230.38,259.07 L231.28,258.57 L232.18,258.09 L233.09,257.63 L233.99,257.19 L234.89,256.77 L235.80,256.38 L236.70,256.00 L237.60,255.64 L238.50,255.31 L239.41,255.00 L240.31,254.71 L241.21,254.45 L242.12,254.21 L243.02,254.00 L243.92,253.81 L244.83,253.65 L245.73,253.51 L246.63,253.41 L247.54,253.33 L248.44,253.28 L249.34,253.26 L250.25,253.27 L251.15,253.32 L252.05,253.39 L252.96,253.50 L253.86,253.65 L254.76,253.83 L255.66,254.05 L256.57,254.30 L257.47,254.59 L258.37,254.92 L259.28,255.28 L260.18,255.69 L261.08,256.14 L261.99,256.62 L262.89,257.15 L263.79,257.71 L264.70,258.31 L265.60,258.96 L266.50,259.64 L267.41,260.36 L268.31,261.11 L269.21,261.91 L270.12,262.74 L271.02,263.60 L271.92,264.50 L272.83,265.43 L273.73,266.38 L274.63,267.36 L275.53,268.37 L276.44,269.40 L277.34,270.45 L278.24,271.52 L279.15,272.60 L280.05,273.69 L280.95,274.79 L281.86,275.89 L282.76,277.00 L283.66,278.10 L284.57,279.21 L285.47,280.30 L286.37,281.38 L287.28,282.45 L288.18,283.50 L289.08,284.54 L289.99,285.55 L290.89,286.54 L291.79,287.51 L292.69,288.45 L293.60,289.36 L294.50,290.24 L295.40,291.09 L296.31,291.91 L297.21,292.69 L298.11,293.44 L299.02,294.16 L299.92,294.84" stroke="#000" stroke-width="1.6" fill="none" stroke-linejoin="round"/>
<path d="M403.00,385.86 L403.98,385.83 L404.96,385.79 L405.95,385.76 L406.93,385.73 L407.91,385.70 L408.89,385.66 L409.88,385.63 L410.86,385.59 L411.84,385.55 L412.82,385.51 L413.80,385.47 L414.79,385.43 L415.77,385.39 L416.75,385.34 L417.73,385.29 L418.72,385.24 L419.70,385.19 L420.68,385.14M423.63,384.98 L424.61,384.93 L425.59,384.87 L426.57,384.81 L427.56,384.75 L428.54,384.69 L429.52,384.62 L430.50,384.56 L431.48,384.50 L432.47,384.44 L433.45,384.38 L434.43,384.31 L435.41,384.24 L436.39,384.18 L437.38,384.11 L438.36,384.03 L439.34,383.96 L440.32,383.88 L441.31,383.80 L442.29,383.72 L443.27,383.64 L444.25,383.56 L445.23,383.47 L446.22,383.38 L447.20,383.29 L448.18,383.20 L449.16,383.10 L450.15,383.00 L451.13,382.90 L452.11,382.80 L453.09,382.69 L454.07,382.58 L455.06,382.47 L456.04,382.36 L457.02,382.24 L458.00,382.12 L458.99,382.00 L459.97,381.87 L460.95,381.75 L461.93,381.61 L462.91,381.48 L463.90,381.34 L464.88,381.20 L465.86,381.06 L466.84,380.91 L467.83,380.76 L468.81,380.60 L469.79,380.44 L470.77,380.28 L471.75,380.12 L472.74,379.95 L473.72,379.77 L474.70,379.60 L475.68,379.41 L476.67,379.23 L477.65,379.04 L478.63,378.85 L479.61,378.65 L480.59,378.45 L481.58,378.24 L482.56,378.03 L483.54,377.82 L484.52,377.60 L485.50,377.37 L486.49,377.14 L487.47,376.91 L488.45,376.67 L489.43,376.43 L490.42,376.18 L491.40,375.93 L492.38,375.67 L493.36,375.41 L494.34,375.14 L495.33,374.87 L496.31,374.59 L497.29,374.31 L498.27,374.02 L499.26,373.73 L500.24,373.43 L501.22,373.12 L502.20,372.82 L503.18,372.50 L504.17,372.18 L505.15,371.86 L506.13,371.52 L507.11,371.19 L508.10,370.85 L509.08,370.50 L510.06,370.15 L511.04,369.79 L512.02,369.42 L513.01,369.05 L513.99,368.68 L514.97,368.30 L515.95,367.91 L516.94,367.52 L517.92,367.13 L518.90,366.72 L519.88,366.32 L520.86,365.90 L521.85,365.49 L522.83,365.06 L523.81,364.64 L524.79,364.20 L525.78,363.77 L526.76,363.32 L527.74,362.88 L528.72,362.43 L529.70,361.97 L530.69,361.51 L531.67,361.04 L532.65,360.57 L533.63,360.10 L534.61,359.62 L535.60,359.14 L536.58,358.65 L537.56,358.16 L538.54,357.67 L539.53,357.17 L540.51,356.67 L541.49,356.17 L542.47,355.66 L543.45,355.15 L544.44,354.64 L545.42,354.13 L546.40,353.61 L547.38,353.09 L548.37,352.57 L549.35,352.05 L550.33,351.53 L551.31,351.00 L552.29,350.47 L553.28,349.94 L554.26,349.42 L555.24,348.89 L556.22,348.36 L557.21,347.83 L558.19,347.30 L559.17,346.76 L560.15,346.23 L561.13,345.70 L562.12,345.18 L563.10,344.65 L564.08,344.12 L565.06,343.59 L566.05,343.07 L567.03,342.54 L568.01,342.02 L568.99,341.50 L569.97,340.99 L570.96,340.47 L571.94,339.96 L572.92,339.45 L573.90,338.94 L574.89,338.43 L575.87,337.93 L576.85,337.43 L577.83,336.94 L578.81,336.45 L579.80,335.96 L580.78,335.48 L581.76,335.00 L582.74,334.52 L583.72,334.05 L584.71,333.58 L585.69,333.12 L586.67,332.66 L587.65,332.20 L588.64,331.76 L589.62,331.31 L590.60,330.87 L591.58,330.44 L592.56,330.01 L593.55,329.58 L594.53,329.17 L595.51,328.75 L596.49,328.34 L597.48,327.94 L598.46,327.55 L599.44,327.15 L600.42,326.77 L601.40,326.39 L602.39,326.02 L603.37,325.65 L604.35,325.29 L605.33,324.93 L606.32,324.58 L607.30,324.24 L608.28,323.90 L609.26,323.57 L610.24,323.25 L611.23,322.93 L612.21,322.62 L613.19,322.32 L614.17,322.02 L615.16,321.73 L616.14,321.45 L617.12,321.18 L618.10,320.91 L619.08,320.65 L620.07,320.40 L621.05,320.16 L622.03,319.93 L623.01,319.70 L624.00,319.49 L624.98,319.28 L625.96,319.09 L626.94,318.90 L627.92,318.73 L628.91,318.56 L629.89,318.41 L630.87,318.27 L631.85,318.14 L632.83,318.03 L633.82,317.92 L634.80,317.83 L635.78,317.76 L636.76,317.69 L637.75,317.64 L638.73,317.60 L639.71,317.58 L640.69,317.56 L641.67,317.56 L642.66,317.57 L643.64,317.59 L644.62,317.62 L645.60,317.66 L646.59,317.70 L647.57,317.75 L648.55,317.81 L649.53,317.87 L650.51,317.93 L651.50,317.99 L652.48,318.05 L653.46,318.11 L654.44,318.17 L655.43,318.22 L656.41,318.27 L657.39,318.32" stroke="#000" stroke-width="1.6" fill="none" stroke-linejoin="round"/>
<path d="M403.00,386.40 L403.98,386.39 L404.96,386.38 L405.95,386.36 L406.93,386.35 L407.91,386.33 L408.89,386.32 L409.88,386.30 L410.86,386.29 L411.84,386.27 L412.82,386.25 L413.80,386.24 L414.79,386.22 L415.77,386.20 L416.75,386.18 L417.73,386.16 L418.72,386.14 L419.70,386.12 L420.68,386.10M423.63,386.02 L424.61,386.00 L425.59,385.97 L426.57,385.94 L427.56,385.91 L428.54,385.88 L429.52,385.85 L430.50,385.82 L431.48,385.79 L432.47,385.76 L433.45,385.72 L434.43,385.68 L435.41,385.65 L436.39,385.61 L437.38,385.57 L438.36,385.53 L439.34,385.48 L440.32,385.43 L441.31,385.34 L442.29,385.26 L443.27,385.18 L444.25,385.09 L445.23,385.00 L446.22,384.91 L447.20,384.82 L448.18,384.72 L449.16,384.63 L450.15,384.53 L451.13,384.43 L452.11,384.33 L453.09,384.22 L454.07,384.12 L455.06,384.01 L456.04,383.93 L457.02,383.85 L458.00,383.77 L458.99,383.70 L459.97,383.62 L460.95,383.54 L461.93,383.45 L462.91,383.37 L463.90,383.29 L464.88,383.20 L465.86,383.11 L466.84,383.02 L467.83,382.93 L468.81,382.84 L469.79,382.74 L470.77,382.64 L471.75,382.54 L472.74,382.43 L473.72,382.32 L474.70,382.21 L475.68,382.09 L476.67,381.97 L477.65,381.85 L478.63,381.72 L479.61,381.58 L480.59,381.44 L481.58,381.30 L482.56,381.15 L483.54,380.99 L484.52,380.83 L485.50,380.66 L486.49,380.49 L487.47,380.31 L488.45,380.12 L489.43,379.93 L490.42,379.73 L491.40,379.52 L492.38,379.30 L493.36,379.08 L494.34,378.84 L495.33,378.60 L496.31,378.35 L497.29,378.09 L498.27,377.82 L499.26,377.55 L500.24,377.26 L501.22,376.96 L502.20,376.65 L503.18,376.33 L504.17,376.01 L505.15,375.67 L506.13,375.32 L507.11,374.95 L508.10,374.58 L509.08,374.19 L510.06,373.80 L511.04,373.39 L512.02,372.97 L513.01,372.53 L513.99,372.08 L514.97,371.62 L515.95,371.15 L516.94,370.67 L517.92,370.17 L518.90,369.65 L519.88,369.13 L520.86,368.59 L521.85,368.03 L522.83,367.47 L523.81,366.89 L524.79,366.29 L525.78,365.69 L526.76,365.07 L527.74,364.43 L528.72,363.79 L529.70,363.13 L530.69,362.47 L531.67,361.79 L532.65,361.10 L533.63,360.40 L534.61,359.69 L535.60,358.97 L536.58,358.25 L537.56,357.51 L538.54,356.77 L539.53,356.02 L540.51,355.26 L541.49,354.49 L542.47,353.72 L543.45,352.95 L544.44,352.17 L545.42,351.38 L546.40,350.60 L547.38,349.81 L548.37,349.01 L549.35,348.22 L550.33,347.42 L551.31,346.63 L552.29,345.83 L553.28,345.04 L554.26,344.25 L555.24,343.46 L556.22,342.67 L557.21,341.89 L558.19,341.11 L559.17,340.34 L560.15,339.57 L561.13,338.81 L562.12,338.06 L563.10,337.31 L564.08,336.58 L565.06,335.85 L566.05,335.13 L567.03,334.43 L568.01,333.73 L568.99,333.04 L569.97,332.36 L570.96,331.69 L571.94,331.02 L572.92,330.37 L573.90,329.72 L574.89,329.08 L575.87,328.45 L576.85,327.82 L577.83,327.21 L578.81,326.59 L579.80,325.99 L580.78,325.39 L581.76,324.79 L582.74,324.20 L583.72,323.62 L584.71,323.04 L585.69,322.46 L586.67,321.88 L587.65,321.31 L588.64,320.74 L589.62,320.17 L590.60,319.61 L591.58,319.04 L592.56,318.48 L593.55,317.92 L594.53,317.37 L595.51,316.82 L596.49,316.28 L597.48,315.74 L598.46,315.22 L599.44,314.70 L600.42,314.19 L601.40,313.69 L602.39,313.20 L603.37,312.73 L604.35,312.26 L605.33,311.81 L606.32,311.37 L607.30,310.94 L608.28,310.52 L609.26,310.11 L610.24,309.72 L611.23,309.33 L612.21,308.95 L613.19,308.59 L614.17,308.24 L615.16,307.90 L616.14,307.57 L617.12,307.25 L618.10,306.94 L619.08,306.64 L620.07,306.35 L621.05,306.08 L622.03,305.82 L623.01,305.57 L624.00,305.33 L624.98,305.10 L625.96,304.88 L626.94,304.68 L627.92,304.49 L628.91,304.32 L629.89,304.15 L630.87,304.00 L631.85,303.87 L632.83,303.75 L633.82,303.64 L634.80,303.56 L635.78,303.49 L636.76,303.43 L637.75,303.40 L638.73,303.38 L639.71,303.39 L640.69,303.42 L641.67,303.47 L642.66,303.54 L643.64,303.64 L644.62,303.76 L645.60,303.91 L646.59,304.09 L647.57,304.30 L648.55,304.54 L649.53,304.81 L650.51,305.11 L651.50,305.44 L652.48,305.81 L653.46,306.21 L654.44,306.64 L655.43,307.10 L656.41,307.59 L657.39,308.10" stroke="#1b52e0" stroke-width="1.6" fill="none" stroke-linejoin="round"/>
<path d="M403.00,385.48 L403.98,385.47 L404.96,385.46 L405.95,385.45 L406.93,385.44 L407.91,385.43 L408.89,385.42 L409.88,385.41 L410.86,385.40 L411.84,385.39 L412.82,385.37 L413.80,385.36 L414.79,385.35 L415.77,385.33 L416.75,385.32 L417.73,385.30 L418.72,385.29 L419.70,385.27 L420.68,385.25M423.63,385.20 L424.61,385.18 L425.59,385.16 L426.57,385.14 L427.56,385.12 L428.54,385.09 L429.52,385.07 L430.50,385.05 L431.48,385.02 L432.47,384.99 L433.45,384.97 L434.43,384.94 L435.41,384.91 L436.39,384.88 L437.38,384.85 L438.36,384.81 L439.34,384.78 L440.32,384.74 L441.31,384.70 L442.29,384.66 L443.27,384.62 L444.25,384.57 L445.23,384.52 L446.22,384.48 L447.20,384.43 L448.18,384.38 L449.16,384.32 L450.15,384.27 L451.13,384.21 L452.11,384.15 L453.09,384.09 L454.07,384.03 L455.06,383.96 L456.04,383.91 L457.02,383.85 L458.00,383.78 L458.99,383.72 L459.97,383.65 L460.95,383.58 L461.93,383.51 L462.91,383.43 L463.90,383.35 L464.88,383.27 L465.86,383.18 L466.84,383.09 L467.83,383.00 L468.81,382.91 L469.79,382.81 L470.77,382.71 L471.75,382.60 L472.74,382.49 L473.72,382.38 L474.70,382.26 L475.68,382.14 L476.67,382.01 L477.65,381.88 L478.63,381.75 L479.61,381.61 L480.59,381.46 L481.58,381.31 L482.56,381.15 L483.54,380.99 L484.52,380.83 L485.50,380.65 L486.49,380.47 L487.47,380.29 L488.45,380.10 L489.43,379.90 L490.42,379.70 L491.40,379.48 L492.38,379.27 L493.36,379.04 L494.34,378.81 L495.33,378.56 L496.31,378.32 L497.29,378.06 L498.27,377.79 L499.26,377.52 L500.24,377.23 L501.22,376.94 L502.20,376.64 L503.18,376.32 L504.17,376.00 L505.15,375.67 L506.13,375.33 L507.11,374.97 L508.10,374.61 L509.08,374.23 L510.06,373.85 L511.04,373.45 L512.02,373.03 L513.01,372.61 L513.99,372.18 L514.97,371.73 L515.95,371.26 L516.94,370.79 L517.92,370.30 L518.90,369.80 L519.88,369.28 L520.86,368.75 L521.85,368.20 L522.83,367.64 L523.81,367.07 L524.79,366.47 L525.78,365.87 L526.76,365.25 L527.74,364.61 L528.72,363.95 L529.70,363.28 L530.69,362.60 L531.67,361.89 L532.65,361.17 L533.63,360.44 L534.61,359.68 L535.60,358.91 L536.58,358.12 L537.56,357.32 L538.54,356.50 L539.53,355.66 L540.51,354.81 L541.49,353.93 L542.47,353.04 L543.45,352.14 L544.44,351.22 L545.42,350.28 L546.40,349.32 L547.38,348.35 L548.37,347.37 L549.35,346.37 L550.33,345.35 L551.31,344.32 L552.29,343.28 L553.28,342.22 L554.26,341.14 L555.24,340.06 L556.22,338.96 L557.21,337.85 L558.19,336.73 L559.17,335.60 L560.15,334.45 L561.13,333.30 L562.12,332.14 L563.10,330.97 L564.08,329.79 L565.06,328.61 L566.05,327.42 L567.03,326.22 L568.01,325.02 L568.99,323.82 L569.97,322.61 L570.96,321.40 L571.94,320.19 L572.92,318.97 L573.90,317.76 L574.89,316.55 L575.87,315.34 L576.85,314.13 L577.83,312.93 L578.81,311.73 L579.80,310.53 L580.78,309.34 L581.76,308.16 L582.74,306.98 L583.72,305.82 L584.71,304.66 L585.69,303.51 L586.67,302.37 L587.65,301.24 L588.64,300.12 L589.62,299.01 L590.60,297.92 L591.58,296.84 L592.56,295.78 L593.55,294.73 L594.53,293.69 L595.51,292.67 L596.49,291.66 L597.48,290.68 L598.46,289.71 L599.44,288.75 L600.42,287.82 L601.40,286.90 L602.39,286.00 L603.37,285.13 L604.35,284.27 L605.33,283.43 L606.32,282.61 L607.30,281.82 L608.28,281.04 L609.26,280.29 L610.24,279.57 L611.23,278.86 L612.21,278.19 L613.19,277.53 L614.17,276.91 L615.16,276.31 L616.14,275.74 L617.12,275.19 L618.10,274.68 L619.08,274.20 L620.07,273.76 L621.05,273.34 L622.03,272.97 L623.01,272.63 L624.00,272.33 L624.98,272.07 L625.96,271.86 L626.94,271.69 L627.92,271.56 L628.91,271.49 L629.89,271.47 L630.87,271.50 L631.85,271.58 L632.83,271.72 L633.82,271.92 L634.80,272.18 L635.78,272.49 L636.76,272.87 L637.75,273.30 L638.73,273.79 L639.71,274.33 L640.69,274.93 L641.67,275.58 L642.66,276.27 L643.64,277.01 L644.62,277.78 L645.60,278.57 L646.59,279.40 L647.57,280.23 L648.55,281.08 L649.53,281.93 L650.51,282.77 L651.50,283.60 L652.48,284.42 L653.46,285.21 L654.44,285.98 L655.43,286.71 L656.41,287.41 L657.39,288.07" stroke="#1b52e0" stroke-width="1.6" fill="none" stroke-linejoin="round"/>
<path d="M44.80,155.20 H327.50" stroke="#222" stroke-width="1.2" stroke-dasharray="3.5 1.54" fill="none"/>
<path d="M386.40,155.20 H668.50" stroke="#222" stroke-width="1.2" stroke-dasharray="3.5 1.54" fill="none"/>
<path d="M44.90,380.90 H348.00" stroke="#707070" stroke-width="1.5" stroke-dasharray="3.5 1.54" fill="none"/>
<path d="M385.80,385.50 H669.50" stroke="#222" stroke-width="1.2" stroke-dasharray="3.5 1.54" fill="none"/>
<circle cx="101.00" cy="155.90" r="3.45" fill="#1247ec"/>
<circle cx="131.75" cy="155.90" r="3.45" fill="#1247ec"/>
<circle cx="162.50" cy="155.90" r="3.45" fill="#1247ec"/>
<circle cx="193.25" cy="155.90" r="3.45" fill="#1247ec"/>
<circle cx="224.00" cy="155.90" r="3.45" fill="#1247ec"/>
<circle cx="254.75" cy="155.90" r="3.45" fill="#1247ec"/>
<circle cx="285.50" cy="155.90" r="3.45" fill="#1247ec"/>
<circle cx="316.25" cy="155.90" r="3.45" fill="#1247ec"/>
<rect x="58.27" y="152.30" width="6.65" height="6.4" fill="#000"/>
<rect x="97.27" y="150.00" width="6.65" height="6.4" fill="#000"/>
<rect x="127.87" y="146.50" width="6.65" height="6.4" fill="#000"/>
<rect x="158.68" y="139.30" width="6.65" height="6.4" fill="#000"/>
<rect x="189.38" y="123.00" width="6.65" height="6.4" fill="#000"/>
<path d="M223.60,81.40 V72.80 M219.95,72.80 H227.25" stroke="#000" stroke-width="1.15" fill="none"/>
<rect x="220.28" y="78.20" width="6.65" height="6.4" fill="#000"/>
<path d="M254.50,61.50 V47.70 M250.85,47.70 H258.15" stroke="#000" stroke-width="1.15" fill="none"/>
<rect x="251.18" y="58.30" width="6.65" height="6.4" fill="#000"/>
<path d="M285.00,40.00 V31.80 M281.35,31.80 H288.65" stroke="#000" stroke-width="1.15" fill="none"/>
<rect x="281.68" y="36.80" width="6.65" height="6.4" fill="#000"/>
<path d="M315.80,86.90 V73.80 M312.15,73.80 H319.45" stroke="#000" stroke-width="1.15" fill="none"/>
<rect x="312.48" y="83.70" width="6.65" height="6.4" fill="#000"/>
<path d="M472.40,164.80 V146.80 M468.75,146.80 H476.05" stroke="#1b52e0" stroke-width="1.15" fill="none"/>
<path d="M503.10,138.70 V132.60 M499.45,132.60 H506.75" stroke="#1b52e0" stroke-width="1.15" fill="none"/>
<path d="M533.90,134.30 V128.50 M530.25,128.50 H537.55" stroke="#1b52e0" stroke-width="1.15" fill="none"/>
<path d="M564.50,116.00 V105.00 M560.85,105.00 H568.15" stroke="#1b52e0" stroke-width="1.15" fill="none"/>
<path d="M595.50,92.60 V77.90 M591.85,77.90 H599.15" stroke="#1b52e0" stroke-width="1.15" fill="none"/>
<path d="M626.10,113.80 V103.50 M622.45,103.50 H629.75" stroke="#1b52e0" stroke-width="1.15" fill="none"/>
<path d="M657.00,140.80 V134.60 M653.35,134.60 H660.65" stroke="#1b52e0" stroke-width="1.15" fill="none"/>
<path d="M441.30,139.70 V132.40 M437.65,132.40 H444.95" stroke="#000" stroke-width="1.15" fill="none"/>
<path d="M472.40,137.10 V131.70 M468.75,131.70 H476.05" stroke="#000" stroke-width="1.15" fill="none"/>
<path d="M503.00,125.20 V118.30 M499.35,118.30 H506.65" stroke="#000" stroke-width="1.15" fill="none"/>
<path d="M533.90,114.00 V102.60 M530.25,102.60 H537.55" stroke="#000" stroke-width="1.15" fill="none"/>
<path d="M564.40,76.90 V67.00 M560.75,67.00 H568.05" stroke="#000" stroke-width="1.15" fill="none"/>
<path d="M595.40,45.30 V38.90 M591.75,38.90 H599.05" stroke="#000" stroke-width="1.15" fill="none"/>
<path d="M626.20,61.00 V54.80 M622.55,54.80 H629.85" stroke="#000" stroke-width="1.15" fill="none"/>
<path d="M657.20,93.80 V84.40 M653.55,84.40 H660.85" stroke="#000" stroke-width="1.15" fill="none"/>
<rect x="399.68" y="152.20" width="6.65" height="6.4" fill="#000"/>
<rect x="437.98" y="136.50" width="6.65" height="6.4" fill="#000"/>
<rect x="469.07" y="133.90" width="6.65" height="6.4" fill="#000"/>
<rect x="499.68" y="122.00" width="6.65" height="6.4" fill="#000"/>
<rect x="530.57" y="110.80" width="6.65" height="6.4" fill="#000"/>
<rect x="561.07" y="73.70" width="6.65" height="6.4" fill="#000"/>
<rect x="592.07" y="42.10" width="6.65" height="6.4" fill="#000"/>
<rect x="622.88" y="57.80" width="6.65" height="6.4" fill="#000"/>
<rect x="653.88" y="90.60" width="6.65" height="6.4" fill="#000"/>
<circle cx="441.30" cy="146.20" r="3.45" fill="#1247ec"/>
<circle cx="472.40" cy="164.80" r="3.45" fill="#1247ec"/>
<circle cx="503.10" cy="138.70" r="3.45" fill="#1247ec"/>
<circle cx="533.90" cy="134.30" r="3.45" fill="#1247ec"/>
<circle cx="564.50" cy="116.00" r="3.45" fill="#1247ec"/>
<circle cx="595.50" cy="92.60" r="3.45" fill="#1247ec"/>
<circle cx="626.10" cy="113.80" r="3.45" fill="#1247ec"/>
<circle cx="657.00" cy="140.80" r="3.45" fill="#1247ec"/>
<path d="M172.40,305.90 V299.60 M168.75,299.60 H176.05" stroke="#000" stroke-width="1.15" fill="none"/>
<path d="M204.60,269.30 V262.80 M200.95,262.80 H208.25" stroke="#000" stroke-width="1.15" fill="none"/>
<path d="M268.20,275.40 V265.50 M264.55,265.50 H271.85" stroke="#000" stroke-width="1.15" fill="none"/>
<rect x="62.67" y="377.90" width="6.65" height="6.4" fill="#000"/>
<rect x="105.77" y="377.90" width="6.65" height="6.4" fill="#000"/>
<rect x="137.48" y="377.80" width="6.65" height="6.4" fill="#000"/>
<rect x="169.08" y="302.70" width="6.65" height="6.4" fill="#000"/>
<rect x="201.28" y="266.10" width="6.65" height="6.4" fill="#000"/>
<rect x="232.98" y="258.40" width="6.65" height="6.4" fill="#000"/>
<rect x="264.88" y="272.20" width="6.65" height="6.4" fill="#000"/>
<rect x="296.57" y="278.90" width="6.65" height="6.4" fill="#000"/>
<path d="M331.50,268.80 V264.50 M327.85,264.50 H335.15" stroke="#1b52e0" stroke-width="1.15" fill="none"/>
<circle cx="172.90" cy="380.90" r="3.45" fill="#1247ec"/>
<circle cx="204.50" cy="380.90" r="3.45" fill="#1247ec"/>
<circle cx="236.30" cy="380.90" r="3.45" fill="#1247ec"/>
<circle cx="268.50" cy="376.30" r="3.45" fill="#1247ec"/>
<circle cx="299.90" cy="276.90" r="3.45" fill="#1247ec"/>
<circle cx="331.50" cy="268.80" r="3.45" fill="#1247ec"/>
<path d="M472.40,385.30 V369.90 M468.75,369.90 H476.05" stroke="#1b52e0" stroke-width="1.15" fill="none"/>
<path d="M503.20,380.80 V367.00 M499.55,367.00 H506.85" stroke="#1b52e0" stroke-width="1.15" fill="none"/>
<path d="M534.00,357.40 V346.80 M530.35,346.80 H537.65" stroke="#1b52e0" stroke-width="1.15" fill="none"/>
<path d="M564.80,339.20 V325.30 M561.15,325.30 H568.45" stroke="#1b52e0" stroke-width="1.15" fill="none"/>
<path d="M595.80,318.40 V300.60 M592.15,300.60 H599.45" stroke="#1b52e0" stroke-width="1.15" fill="none"/>
<path d="M626.40,302.80 V272.50 M622.75,272.50 H630.05" stroke="#1b52e0" stroke-width="1.15" fill="none"/>
<path d="M657.30,308.40 V292.50 M653.65,292.50 H660.95" stroke="#1b52e0" stroke-width="1.15" fill="none"/>
<path d="M503.20,373.00 V364.30 M499.55,364.30 H506.85" stroke="#1b52e0" stroke-width="1.15" fill="none"/>
<path d="M564.80,327.00 V307.90 M561.15,307.90 H568.45" stroke="#1b52e0" stroke-width="1.15" fill="none"/>
<path d="M595.80,294.00 V279.30 M592.15,279.30 H599.45" stroke="#1b52e0" stroke-width="1.15" fill="none"/>
<path d="M626.40,272.90 V252.10 M622.75,252.10 H630.05" stroke="#1b52e0" stroke-width="1.15" fill="none"/>
<path d="M657.30,288.60 V270.30 M653.65,270.30 H660.95" stroke="#1b52e0" stroke-width="1.15" fill="none"/>
<path d="M441.40,381.50 V377.30 M437.75,377.30 H445.05" stroke="#000" stroke-width="1.15" fill="none"/>
<path d="M472.40,378.10 V371.00 M468.75,371.00 H476.05" stroke="#000" stroke-width="1.15" fill="none"/>
<path d="M564.80,335.60 V328.20 M561.15,328.20 H568.45" stroke="#000" stroke-width="1.15" fill="none"/>
<path d="M595.80,331.20 V327.00 M592.15,327.00 H599.45" stroke="#000" stroke-width="1.15" fill="none"/>
<path d="M626.40,321.80 V310.50 M622.75,310.50 H630.05" stroke="#000" stroke-width="1.15" fill="none"/>
<path d="M657.30,317.20 V301.80 M653.65,301.80 H660.95" stroke="#000" stroke-width="1.15" fill="none"/>
<path d="M441.30,385.41 L444.90,391.89 L437.70,391.89Z" fill="#1247ec"/>
<path d="M503.20,369.11 L506.80,375.59 L499.60,375.59Z" fill="#1247ec"/>
<path d="M534.00,352.91 L537.60,359.39 L530.40,359.39Z" fill="#1247ec"/>
<path d="M564.80,323.11 L568.40,329.59 L561.20,329.59Z" fill="#1247ec"/>
<path d="M595.80,290.11 L599.40,296.59 L592.20,296.59Z" fill="#1247ec"/>
<path d="M626.40,269.01 L630.00,275.49 L622.80,275.49Z" fill="#1247ec"/>
<path d="M657.30,284.71 L660.90,291.19 L653.70,291.19Z" fill="#1247ec"/>
<circle cx="472.40" cy="385.30" r="3.45" fill="#1247ec"/>
<circle cx="503.20" cy="380.80" r="3.45" fill="#1247ec"/>
<circle cx="534.00" cy="357.40" r="3.45" fill="#1247ec"/>
<circle cx="564.80" cy="339.20" r="3.45" fill="#1247ec"/>
<circle cx="595.80" cy="318.40" r="3.45" fill="#1247ec"/>
<circle cx="626.40" cy="302.80" r="3.45" fill="#1247ec"/>
<circle cx="657.30" cy="308.40" r="3.45" fill="#1247ec"/>
<rect x="399.68" y="382.70" width="6.65" height="6.4" fill="#000"/>
<rect x="438.07" y="378.30" width="6.65" height="6.4" fill="#000"/>
<rect x="469.07" y="374.90" width="6.65" height="6.4" fill="#000"/>
<rect x="499.88" y="375.80" width="6.65" height="6.4" fill="#000"/>
<rect x="530.67" y="362.40" width="6.65" height="6.4" fill="#000"/>
<rect x="561.47" y="332.40" width="6.65" height="6.4" fill="#000"/>
<rect x="592.47" y="328.00" width="6.65" height="6.4" fill="#000"/>
<rect x="623.07" y="318.60" width="6.65" height="6.4" fill="#000"/>
<rect x="653.97" y="314.00" width="6.65" height="6.4" fill="#000"/>
</svg>
</body></html>
